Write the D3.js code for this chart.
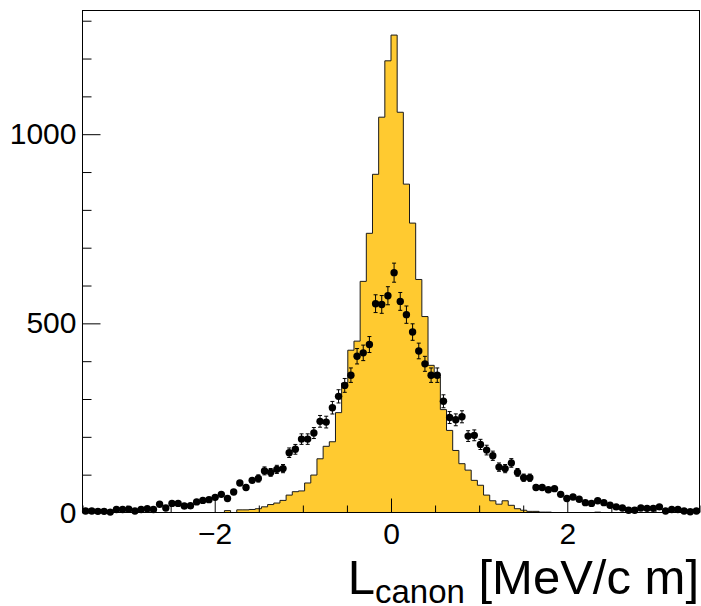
<!DOCTYPE html>
<html><head><meta charset="utf-8">
<script src="https://cdn.jsdelivr.net/npm/d3@7"></script>
<style>body{margin:0;background:#fff}svg{display:block}</style>
</head><body>
<svg id="c" width="701" height="606"></svg>
<script>
// ---- data ----
const xMin = -3.5, xMax = 3.5, nBins = 100;
const mcCounts = [
  0,0,0,0,0,0,0,0,0,0,
  0,0,0,0,0,0,0,0,0,0,
  0,0,0,5,0,7,7,8,10,15,
  21,25,32,46,55,57,78,99,142,175,
  187,264,342,429,453,611,738,894,1045,1194,
  1262,1058,868,765,616,518,389,358,272,217,
  164,129,112,85,72,46,31,22,31,19,
  10,6,3,3,1,1,0,0,0,0,
  0,0,0,1,0,0,0,0,0,0,
  0,0,0,0,0,0,0,0,0,0
];
const dataCounts = [
  4,4,3,3,1,8,8,9,4,8,
  10,8,22,12,24,24,17,18,28,32,
  34,40,48,37,54,78,66,85,90,110,
  106,114,116,158,167,194,194,210,241,239,
  277,307,336,363,413,422,444,552,550,573,
  634,558,523,477,427,393,363,363,294,251,
  245,253,202,204,180,165,150,120,116,131,
  106,92,92,66,66,60,63,48,37,41,
  35,26,24,31,26,19,15,12,6,6,
  12,11,11,15,4,8,8,4,2,4
];
const dataErrors = [
  2,2,1.7,1.7,1,2.8,2.8,3,2,2.8,
  3.2,2.8,4.7,3.5,4.9,4.9,4.1,4.2,5.3,5.7,
  5.8,6.3,6.9,6.1,7.3,8.8,8.1,9.2,9.5,10.5,
  10.3,10.7,10.8,12.6,12.9,13.9,13.9,14.5,15.5,15.5,
  16.6,17.5,18.3,19.1,20.3,20.5,21.1,23.5,23.5,23.9,
  25.2,23.6,22.9,21.8,20.7,19.8,19.1,19.1,17.1,15.8,
  15.7,15.9,14.2,14.3,13.4,12.8,12.2,11,10.8,11.4,
  10.3,9.6,9.6,8.1,8.1,7.7,7.9,6.9,6.1,6.4,
  5.9,5.1,4.9,5.6,5.1,4.4,3.9,3.5,2.4,2.4,
  3.5,3.3,3.3,3.9,2,2.8,2.8,2,1.4,2
];
const xMajorTicks = [-2, 0, 2];
const xMinorTicks = [-3.5,-3,-2.5,-1.5,-1,-0.5,0.5,1,1.5,2.5,3,3.5];
const yMajorTicks = [0, 500, 1000];
const yMinorTicks = [100,200,300,400,600,700,800,900,1100,1200,1300];
const yMax = 1327;
const titleMain = "L", titleSub = "canon", titleUnit = " [MeV/c m]";

// ---- layout ----
const L = 82.5, R = 699.5, T = 10.5, B = 512.5;
const FONT = "'Liberation Sans', Arial, Helvetica, sans-serif";
const fill = "#ffca30";

const svg = d3.select("#c");
const x = d3.scaleLinear().domain([xMin, xMax]).range([L, R]);
const y = d3.scaleLinear().domain([0, yMax]).range([B, T]);
const bw = (xMax - xMin) / nBins;
const edge = i => xMin + i * bw;

// histogram (step)
const pts = [[x(xMin), y(0)]];
mcCounts.forEach((v, i) => { pts.push([x(edge(i)), y(v)]); pts.push([x(edge(i + 1)), y(v)]); });
pts.push([x(xMax), y(0)]);
svg.append("path").attr("d", d3.line()(pts)).attr("fill", fill).attr("stroke", "none");
svg.append("path").attr("d", d3.line()(pts.slice(1, -1))).attr("fill", "none")
   .attr("stroke", "#1a1a1a").attr("stroke-width", 1);

// data points
const g = svg.append("g");
dataCounts.forEach((v, i) => {
  const cx = x(edge(i) + bw / 2), e = dataErrors[i];
  const y1 = y(v + e), y0 = y(Math.max(0, v - e));
  if (y0 - y1 > 7) {
    g.append("line").attr("x1", cx).attr("x2", cx).attr("y1", y1).attr("y2", y0)
      .attr("stroke", "#000").attr("stroke-width", 1);
    [y1, y0].forEach(yy => g.append("line").attr("x1", cx - 2).attr("x2", cx + 2)
      .attr("y1", yy).attr("y2", yy).attr("stroke", "#000").attr("stroke-width", 1));
  }
  g.append("circle").attr("cx", cx).attr("cy", y(v)).attr("r", 3.7).attr("fill", "#000");
});

// frame
svg.append("rect").attr("x", L).attr("y", T).attr("width", R - L).attr("height", B - T)
   .attr("fill", "none").attr("stroke", "#000").attr("stroke-width", 1);

// y axis
svg.append("g").attr("transform", `translate(${L},0)`)
  .call(d3.axisLeft(y).tickValues(yMajorTicks).tickSizeInner(-18).tickSizeOuter(0)
        .tickPadding(6).tickFormat(d3.format("d")));
svg.append("g").attr("transform", `translate(${L},0)`)
  .call(d3.axisLeft(y).tickValues(yMinorTicks).tickSizeInner(-9).tickSizeOuter(0).tickFormat(""));
// x axis
svg.append("g").attr("transform", `translate(0,${B})`)
  .call(d3.axisBottom(x).tickValues(xMajorTicks).tickSizeInner(-14).tickSizeOuter(0)
        .tickPadding(10).tickFormat(d3.format("d")));
svg.append("g").attr("transform", `translate(0,${B})`)
  .call(d3.axisBottom(x).tickValues(xMinorTicks).tickSizeInner(-7).tickSizeOuter(0).tickFormat(""));
svg.selectAll(".domain").remove();
svg.selectAll(".tick line").attr("stroke", "#000");
svg.selectAll(".tick text").attr("font-family", FONT).attr("font-size", 30).attr("fill", "#000");

// axis title
const t = svg.append("text").attr("x", 699).attr("y", 594).attr("text-anchor", "end")
  .attr("font-family", FONT).attr("font-size", 49).attr("fill", "#000");
t.append("tspan").text(titleMain);
t.append("tspan").attr("font-size", 33).attr("dy", 9).text(titleSub);
t.append("tspan").attr("dy", -9).text(titleUnit);
</script>
</body></html>
